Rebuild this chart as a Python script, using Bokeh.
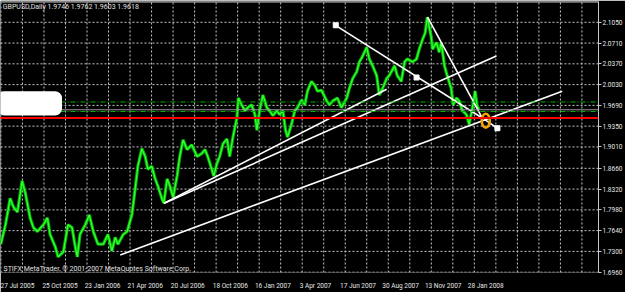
from bokeh.plotting import figure
from bokeh.models import (Range1d, FixedTicker, NumeralTickFormatter, Span,
                          BoxAnnotation, Label)
from bokeh.embed import file_html
from bokeh.resources import INLINE

# ---------------- data ----------------
date_labels = ["27 Jul 2005", "25 Oct 2005", "23 Jan 2006", "21 Apr 2006", "20 Jul 2006",
               "18 Oct 2006", "16 Jan 2007", "3 Apr 2007", "17 Jun 2007", "30 Aug 2007",
               "13 Nov 2007", "28 Jan 2008"]
date_bars = [0, 64, 128, 192, 256, 320, 384, 448, 512, 576, 640, 704]

price_ticks = [2.1050, 2.0710, 2.0370, 2.0030, 1.9690, 1.9350, 1.9010, 1.8660,
               1.8320, 1.7980, 1.7640, 1.7300, 1.6960]

bars = [-4, 3, 10, 15, 21, 28, 33, 40, 45, 51, 60, 66, 70, 78, 82, 90, 97, 103, 108, 111,
        115, 123, 129, 135, 142, 150, 157, 163, 168, 172, 180, 186, 190, 193, 198, 202, 208,
        213, 217, 223, 228, 232, 238, 241, 246, 250, 255, 261, 265, 270, 276, 283, 291, 298,
        303, 307, 313, 316, 321, 325, 330, 336, 340, 345, 351, 353, 358, 363, 367, 373, 378,
        381, 385, 390, 396, 400, 405, 411, 415, 420, 424, 427, 433, 438, 442, 448, 453, 457,
        463, 468, 472, 478, 486, 490, 495, 502, 508, 516, 520, 525, 531, 535, 540, 546, 550,
        555, 561, 565, 570, 576, 580, 588, 592, 598, 603, 607, 615, 621, 625, 630, 634, 637,
        643, 645, 651, 655, 658, 663, 667, 673, 676, 681, 685, 690, 696, 700, 705, 709, 712,
        715]
close = [1.7418, 1.7737, 1.8168, 1.8025, 1.7945, 1.8455, 1.8248, 1.7849, 1.7690, 1.7626,
         1.7737, 1.7849, 1.7578, 1.7371, 1.7211, 1.7291, 1.7737, 1.7690, 1.7371, 1.7211,
         1.7578, 1.7737, 1.7897, 1.7626, 1.7418, 1.7418, 1.7578, 1.7307, 1.7530, 1.7418,
         1.7578, 1.7626, 1.7785, 1.7897, 1.8328, 1.8694, 1.8981, 1.8854, 1.8647, 1.8694,
         1.8487, 1.8375, 1.8168, 1.8088, 1.8487, 1.8375, 1.8184, 1.8535, 1.8854, 1.9125,
         1.8966, 1.9045, 1.8854, 1.8902, 1.8966, 1.8854, 1.8647, 1.8535, 1.8742, 1.8854,
         1.9061, 1.9141, 1.8854, 1.9173, 1.9492, 1.9811, 1.9699, 1.9603, 1.9651, 1.9699,
         1.9540, 1.9284, 1.9603, 1.9859, 1.9651, 1.9603, 1.9524, 1.9603, 1.9540, 1.9603,
         1.9284, 1.9173, 1.9380, 1.9603, 1.9651, 1.9779, 1.9699, 1.9922, 2.0082, 2.0018,
         1.9922, 1.9938, 1.9763, 1.9699, 1.9763, 1.9811, 1.9651, 1.9811, 1.9970, 2.0130,
         2.0241, 2.0401, 2.0497, 2.0640, 2.0449, 2.0337, 2.0178, 1.9859, 1.9970, 2.0130,
         2.0178, 2.0337, 2.0178, 2.0082, 2.0401, 2.0449, 2.0401, 2.0449, 2.0608, 2.0768,
         2.0879, 2.1135, 2.0816, 2.0608, 2.0720, 2.0560, 2.0720, 2.0337, 2.0178, 1.9970,
         1.9699, 1.9811, 1.9763, 1.9603, 1.9540, 1.9380, 1.9651, 1.9922, 1.9683, 1.9619]

# trend lines (start bar, start price, end bar, end price)
tl_x0 = [175.5, 241.5, 241.5, 498.0, 637.5, 723.0]
tl_y0 = [1.7243, 1.8088, 1.8088, 2.1007, 2.1135, 1.9460]
tl_x1 = [840.0, 576.0, 741.0, 718.5, 720.0, 742.5]
tl_y1 = [1.9922, 1.9954, 2.0497, 1.9492, 1.9476, 1.9316]
anchor_x = [499.5, 621.0, 742.5]
anchor_y = [2.1001, 2.0146, 1.9316]
circle_x = [725.0]
circle_y = [1.9440]

bid_price = 1.9618
red_level = 1.9485
green_levels = [1.9746, 1.9590]

title_text = "GBPUSD,Daily  1.9746 1.9762 1.9603 1.9618"
copyright_text = "STIFX MetaTrader, \u00a9 2001-2007 MetaQuotes Software Corp."

X_START, X_END = -4.5, 894.5
Y_START, Y_END = 1.6955, 2.1390

FONT = "Roboto"
LABEL_SHIFT = 21
GRID_COLOR = "#c8c8c8"

# ---------------- figure ----------------
p = figure(width=625, height=292, output_backend="svg", toolbar_location=None,
           x_range=Range1d(X_START, X_END), y_range=Range1d(Y_START, Y_END),
           background_fill_color="black", border_fill_color="black",
           min_border_left=0, min_border_right=0, min_border_top=1, min_border_bottom=13,
           outline_line_color=None, y_axis_location="right")

# y axis (right)
ya = p.yaxis[0]
ya.ticker = FixedTicker(ticks=price_ticks)
ya.formatter = NumeralTickFormatter(format="0.0000")
ya.major_label_text_font = FONT
ya.major_label_text_font_size = "6.5px"
ya.major_label_text_color = "#e8e8e8"
ya.axis_line_color = "#c8c8c8"
ya.major_tick_line_color = "#c8c8c8"
ya.major_tick_out = 3
ya.major_tick_in = 0
ya.minor_tick_line_color = None
ya.major_label_standoff = 1

# x axis (below)
xa = p.xaxis[0]
shifted = [b + LABEL_SHIFT for b in date_bars]
xa.ticker = FixedTicker(ticks=shifted)
xa.major_label_overrides = {s: t for s, t in zip(shifted, date_labels)}
xa.major_label_text_font = FONT
xa.major_label_text_font_size = "6.5px"
xa.major_label_text_color = "#e8e8e8"
xa.axis_line_color = None
xa.major_tick_line_color = None
xa.minor_tick_line_color = None
xa.major_label_standoff = 3

# grid drawn as dotted segments (at the price ticks and a fixed vertical spacing)
p.xgrid.visible = False
p.ygrid.visible = False
grid_x = [28.5 + 32.35 * k for k in range(-1, 27)]
p.segment(x0=[X_START] * len(price_ticks), y0=price_ticks,
          x1=[X_END] * len(price_ticks), y1=price_ticks,
          line_color=GRID_COLOR, line_dash="2 2", line_width=1)
p.segment(x0=grid_x, y0=[Y_START] * len(grid_x), x1=grid_x, y1=[Y_END] * len(grid_x),
          line_color=GRID_COLOR, line_dash="2 2", line_width=1)

# price
p.line(bars, close, line_color="#00b400", line_width=3.2)
p.line(bars, close, line_color="#33ff33", line_width=1.3)

# level lines
for g in green_levels:
    p.add_layout(Span(location=g, dimension="width", line_color="#00b000",
                      line_dash="5 2 1 2", line_width=1))
p.add_layout(Span(location=bid_price, dimension="width", line_color="#9a9a9a", line_width=1))
p.add_layout(Span(location=red_level, dimension="width", line_color="#ff0000", line_width=2))
p.add_layout(Span(location=Y_END, dimension="width", line_color="#c8c8c8", line_width=2))

# white blob
p.add_layout(BoxAnnotation(left=X_START - 5, right=88, bottom=1.9525, top=1.9922,
                           fill_color="white", fill_alpha=1, line_color=None,
                           border_radius=7))

# trend lines
p.segment(tl_x0, tl_y0, tl_x1, tl_y1, line_color="white", line_width=1.6)
p.scatter(anchor_x, anchor_y, marker="square", size=5, fill_color="white", line_color="white")
p.ellipse(circle_x, circle_y, width=8, height=14, width_units="screen", height_units="screen",
          fill_color=None, line_color="#f5a300", line_width=2.5)

# texts
p.add_layout(Label(x=-1, y=2.1294, text=title_text, text_font=FONT, text_font_size="7px",
                   text_color="#e0e0e0", text_baseline="middle"))
p.add_layout(Label(x=0, y=1.7019, text=copyright_text, text_font=FONT, text_font_size="7px",
                   text_color="#e0e0e0", text_baseline="middle"))
p.add_layout(Label(x=897, y=bid_price, text="1.9618", text_font=FONT, text_font_size="6.5px",
                   text_color="black", text_baseline="middle", background_fill_color="white",
                   level="overlay"))
p.add_layout(Label(x=897, y=red_level, text="1.9485", text_font=FONT, text_font_size="6.5px",
                   text_color="white", text_baseline="middle", background_fill_color="#ff0000",
                   level="overlay"))

open("out.html", "w").write(file_html(p, INLINE))
